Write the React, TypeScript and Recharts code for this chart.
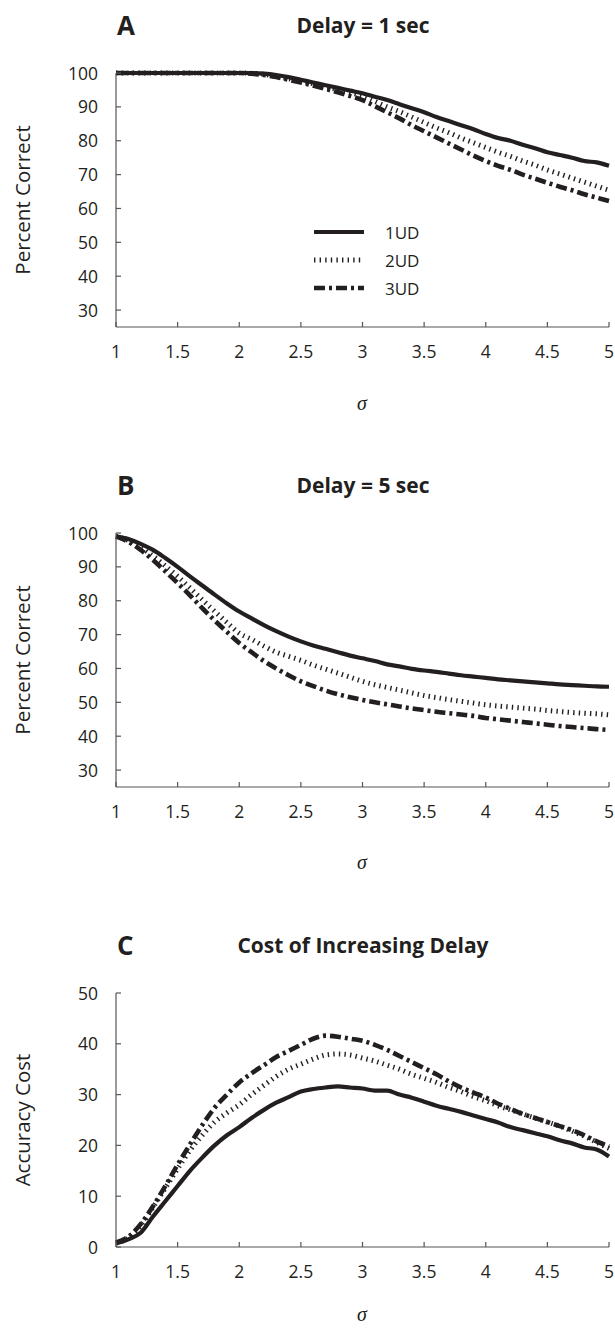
import React from "react";
import { LineChart, Line, XAxis, YAxis, Legend } from "recharts";

// sigma values sampled along the x axis
const sigma = [
  1.0, 1.1, 1.2, 1.3, 1.4, 1.5, 1.6, 1.7, 1.8, 1.9,
  2.0, 2.1, 2.2, 2.3, 2.4, 2.5, 2.6, 2.7, 2.8, 2.9,
  3.0, 3.1, 3.2, 3.3, 3.4, 3.5, 3.6, 3.7, 3.8, 3.9,
  4.0, 4.1, 4.2, 4.3, 4.4, 4.5, 4.6, 4.7, 4.8, 4.9,
  5.0,
];
const xTicks = [1, 1.5, 2, 2.5, 3, 3.5, 4, 4.5, 5];
const pctTicks = [30, 40, 50, 60, 70, 80, 90, 100];
const costTicks = [0, 10, 20, 30, 40, 50];

// A: delay = 1 sec
const delay1_1UD = [
  100, 100, 100, 100, 100, 100, 100, 100, 100, 100,
  100, 100, 99.8, 99.4, 98.8, 98.0, 97.2, 96.4, 95.6, 94.8,
  94.0, 93.0, 92.0, 90.8, 89.6, 88.4, 87.0, 85.8, 84.6, 83.4,
  82.0, 80.8, 80.0, 78.8, 77.8, 76.6, 75.8, 75.0, 74.0, 73.6,
  72.6,
];
const delay1_2UD = [
  100, 100, 100, 100, 100, 100, 100, 100, 100, 100,
  100, 99.9, 99.6, 99.0, 98.3, 97.6, 96.8, 96.0, 95.0, 94.2,
  93.2, 91.6, 90.0, 88.6, 87.0, 85.4, 83.8, 82.4, 80.8, 79.4,
  78.0, 76.6, 75.4, 74.0, 72.8, 71.4, 70.2, 69.0, 67.8, 66.6,
  65.4,
];
const delay1_3UD = [
  100, 100, 100, 100, 100, 100, 100, 100, 100, 100,
  100, 99.8, 99.4, 98.8, 98.0, 97.2, 96.3, 95.3, 94.3, 93.2,
  92.0, 90.2, 88.4, 86.6, 84.6, 82.8, 81.0, 79.2, 77.4, 75.6,
  74.0, 72.6, 71.4, 70.0, 68.8, 67.6, 66.4, 65.4, 64.2, 63.2,
  62.2,
];

// B: delay = 5 sec
const delay5_1UD = [
  99, 98.2, 96.8, 95.0, 92.6, 90.0, 87.2, 84.5, 81.8, 79.2,
  76.8, 74.8, 72.8, 71.0, 69.4, 68.0, 66.8, 65.8, 64.8, 63.8,
  63.0, 62.2, 61.2, 60.6, 59.9, 59.4, 59.0, 58.5, 58.0, 57.6,
  57.2, 56.8, 56.5, 56.2, 55.9, 55.6, 55.3, 55.1, 54.9, 54.7,
  54.6,
];
const delay5_2UD = [
  99, 97.8, 95.8, 93.2, 90.3, 87.2, 83.8, 80.3, 76.9, 73.6,
  70.4, 68.6, 66.6, 64.8, 63.6, 62.4, 61.0, 59.8, 58.6, 57.4,
  56.2, 55.2, 54.4, 53.6, 52.8, 52.0, 51.4, 50.8, 50.3, 49.8,
  49.3, 48.9, 48.6, 48.3, 48.0, 47.6, 47.3, 47.0, 46.8, 46.6,
  46.3,
];
const delay5_3UD = [
  99, 97.4, 95.0, 92.0, 88.7, 85.2, 81.6, 77.8, 74.2, 70.8,
  67.5, 64.8, 62.2, 60.0, 58.0, 56.2, 54.8, 53.5, 52.4, 51.5,
  50.7, 50.0, 49.4, 48.8, 48.2, 47.7, 47.2, 46.8, 46.4, 46.0,
  45.4, 45.0, 44.6, 44.2, 43.8, 43.4, 43.0, 42.7, 42.4, 42.1,
  41.8,
];

// C: cost of increasing delay
const cost_1UD = [
  0.7, 1.5, 2.8, 6.0, 9.0, 12.0, 15.0, 17.6, 20.0, 22.0,
  23.6, 25.4, 27.0, 28.4, 29.5, 30.6, 31.1, 31.4, 31.6, 31.4,
  31.2, 30.8, 30.8, 30.0, 29.4, 28.6, 27.8, 27.2, 26.6, 25.9,
  25.2, 24.5, 23.6, 23.0, 22.4, 21.8, 21.0, 20.4, 19.6, 19.2,
  17.8,
];
const cost_2UD = [
  0.8, 1.8, 4.2, 7.8, 11.6, 15.4, 19.0, 22.0, 24.6, 26.4,
  28.0, 30.0, 31.8, 33.6, 35.0, 36.0, 37.0, 37.8, 38.0, 37.8,
  37.2, 36.6, 35.8, 35.0, 34.0, 33.2, 32.4, 31.4, 30.6, 29.6,
  28.8, 27.8, 27.0, 26.2, 25.4, 24.6, 23.8, 22.8, 21.8, 20.6,
  19.4,
];
const cost_3UD = [
  0.9, 2.0, 4.5, 8.0, 12.0, 16.2, 20.2, 24.0, 27.4, 30.0,
  32.4, 34.2, 35.8, 37.4, 38.6, 39.8, 41.0, 41.6, 41.4, 41.0,
  40.6, 39.8, 38.8, 37.6, 36.4, 35.2, 34.0, 32.6, 31.4, 30.4,
  29.4, 28.2, 27.2, 26.2, 25.4, 24.6, 23.8, 23.0, 22.0, 20.8,
  19.8,
];

const INK = "#231f20";
const AXIS = "#555555";
const FONT = "'Open Sans', 'Noto Sans', sans-serif";

const SERIES = [
  { key: "ud1", name: "1UD", width: 4.2, dash: undefined as string | undefined },
  { key: "ud2", name: "2UD", width: 5, dash: "1.4 4.2" },
  { key: "ud3", name: "3UD", width: 4.6, dash: "11 4 3 4" },
];

const rows = (u1: number[], u2: number[], u3: number[]) =>
  sigma.map((s, i) => ({ s, ud1: u1[i], ud2: u2[i], ud3: u3[i] }));

const XTick = ({ x, y, payload }: any) => (
  <g>
    <line x1={x} x2={x} y1={y} y2={y - 5} stroke={AXIS} strokeWidth={1.2} />
    <text x={x} y={y + 31} textAnchor="middle" fontSize={17.5} fill={INK} fontFamily={FONT}>
      {payload.value}
    </text>
  </g>
);

const YTick = ({ x, y, payload }: any) => (
  <g>
    <line x1={x} x2={x + 5} y1={y} y2={y} stroke={AXIS} strokeWidth={1.2} />
    <text x={x - 18} y={y + 6.5} textAnchor="end" fontSize={17.5} fill={INK} fontFamily={FONT}>
      {payload.value}
    </text>
  </g>
);

const LegendBox = () => (
  <div style={{ fontFamily: FONT, fontSize: 17, color: INK }}>
    {SERIES.map((s) => (
      <div key={s.key} style={{ display: "flex", alignItems: "center", height: 28 }}>
        <svg width={50} height={10}>
          <line
            x1={0}
            x2={50}
            y1={5}
            y2={5}
            stroke={INK}
            strokeWidth={s.width}
            strokeDasharray={s.dash}
          />
        </svg>
        <span style={{ marginLeft: 21 }}>{s.name}</span>
      </div>
    ))}
  </div>
);

function Panel({
  top,
  letter,
  title,
  yLabel,
  data,
  yDomain,
  yTicks,
  legend,
  sigmaTop,
}: {
  top: number;
  letter: string;
  title: string;
  yLabel: string;
  data: any[];
  yDomain: [number, number];
  yTicks: number[];
  legend?: boolean;
  sigmaTop: number;
}) {
  return (
    <div style={{ position: "absolute", left: 0, top, width: 615, height: 460 }}>
      <div
        style={{
          position: "absolute",
          left: 117,
          top: 9,
          fontFamily: FONT,
          fontWeight: 700,
          fontSize: 26,
          lineHeight: "32px",
          color: INK,
        }}
      >
        {letter}
      </div>
      <div
        style={{
          position: "absolute",
          left: 163,
          width: 400,
          top: 10,
          textAlign: "center",
          fontFamily: FONT,
          fontWeight: 700,
          fontSize: 21,
          lineHeight: "30px",
          color: INK,
        }}
      >
        {title}
      </div>
      <div
        style={{
          position: "absolute",
          left: 22 - 100,
          top: 200 - 13,
          width: 200,
          height: 26,
          lineHeight: "26px",
          textAlign: "center",
          transform: "rotate(-90deg)",
          fontFamily: FONT,
          fontSize: 20.5,
          color: INK,
          whiteSpace: "nowrap",
        }}
      >
        {yLabel}
      </div>
      <LineChart
        width={615}
        height={400}
        data={data}
        margin={{ top: 73, right: 6, bottom: 43, left: 0 }}
      >
        <XAxis
          type="number"
          dataKey="s"
          domain={[1, 5]}
          ticks={xTicks}
          interval={0}
          height={30}
          tickSize={0}
          tickMargin={0}
          tickLine={false}
          axisLine={{ stroke: AXIS, strokeWidth: 1.2 }}
          tick={<XTick />}
        />
        <YAxis
          type="number"
          domain={yDomain}
          ticks={yTicks}
          interval={0}
          width={116}
          tickSize={0}
          tickMargin={0}
          tickLine={false}
          axisLine={{ stroke: AXIS, strokeWidth: 1.2 }}
          tick={<YTick />}
        />
        {legend && (
          <Legend
            layout="vertical"
            align="center"
            verticalAlign="middle"
            wrapperStyle={{ left: 314, top: 218, width: 140 }}
            content={<LegendBox />}
          />
        )}
        {SERIES.map((s) => (
          <Line
            key={s.key}
            type="monotone"
            dataKey={s.key}
            name={s.name}
            stroke={INK}
            strokeWidth={s.width}
            strokeDasharray={s.dash}
            dot={false}
            isAnimationActive={false}
          />
        ))}
      </LineChart>
      <div
        style={{
          position: "absolute",
          left: 342,
          width: 40,
          top: sigmaTop,
          height: 20,
          textAlign: "center",
          fontFamily: "'Liberation Serif', 'DejaVu Serif', serif",
          fontStyle: "italic",
          fontSize: 20,
          lineHeight: "20px",
          color: INK,
        }}
      >
        σ
      </div>
    </div>
  );
}

export default function App() {
  return (
    <div
      style={{
        position: "absolute",
        left: 0,
        top: 0,
        width: 615,
        height: 1329,
        background: "#fff",
        overflow: "hidden",
      }}
    >
      <Panel
        top={0}
        letter="A"
        title="Delay = 1 sec"
        yLabel="Percent Correct"
        data={rows(delay1_1UD, delay1_2UD, delay1_3UD)}
        yDomain={[25, 100]}
        yTicks={pctTicks}
        legend
        sigmaTop={393}
      />
      <Panel
        top={460}
        letter="B"
        title="Delay = 5 sec"
        yLabel="Percent Correct"
        data={rows(delay5_1UD, delay5_2UD, delay5_3UD)}
        yDomain={[25, 100]}
        yTicks={pctTicks}
        sigmaTop={392}
      />
      <Panel
        top={920}
        letter="C"
        title="Cost of Increasing Delay"
        yLabel="Accuracy Cost"
        data={rows(cost_1UD, cost_2UD, cost_3UD)}
        yDomain={[0, 50]}
        yTicks={costTicks}
        sigmaTop={384}
      />
    </div>
  );
}
